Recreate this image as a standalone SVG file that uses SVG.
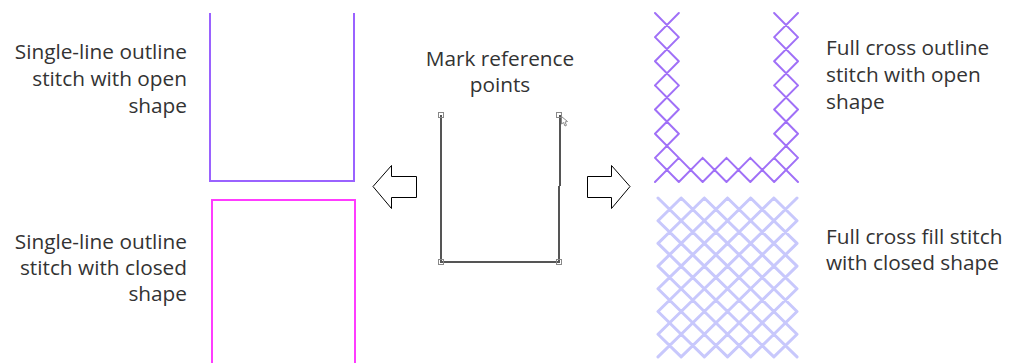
<svg xmlns="http://www.w3.org/2000/svg" width="1010" height="363" viewBox="0 0 1010 363">
<style>
text{font-family:"Open Sans","Noto Sans","Liberation Sans",sans-serif;font-size:20.8px;fill:#333}
.r{text-anchor:end}
.m{text-anchor:middle}
.arrow{fill:#fff;stroke:#000;stroke-width:1}
.xo{fill:none;stroke:#a070f7;stroke-width:2;stroke-linecap:round}
.xf{fill:none;stroke:#c8c8fc;stroke-width:3;stroke-linecap:round}
.mk{fill:none;stroke:#888;stroke-width:1}
</style>
<rect width="1010" height="363" fill="#fff"/>
<g id="label-open-outline">
<text class="r" x="187" y="59">Single-line outline</text>
<text class="r" x="187" y="86">stitch with open</text>
<text class="r" x="187" y="113">shape</text>
</g>
<g id="label-closed-outline">
<text class="r" x="187" y="249">Single-line outline</text>
<text class="r" x="187" y="275">stitch with closed</text>
<text class="r" x="187" y="301">shape</text>
</g>
<g id="label-mark">
<text class="m" x="500" y="66">Mark reference</text>
<text class="m" x="500" y="92">points</text>
</g>
<g id="label-cross-outline">
<text x="826" y="55">Full cross outline</text>
<text x="826" y="82">stitch with open</text>
<text x="826" y="109">shape</text>
</g>
<g id="label-cross-fill">
<text x="826" y="244">Full cross fill stitch</text>
<text x="826" y="270">with closed shape</text>
</g>
<g id="open-outline">
<path d="M210,13 V181 H354 V13" fill="none" stroke="#9a62ff" stroke-width="2"/>
</g>
<g id="closed-outline">
<rect x="212" y="200" width="143" height="180" fill="none" stroke="#ff3cff" stroke-width="2"/>
</g>
<g id="reference-shape">
<path d="M441,115 V262 H559 V186 M560,186 V115" fill="none" stroke="#555" stroke-width="2"/>
<rect class="mk" x="438.5" y="112.5" width="5" height="5"/>
<rect class="mk" x="556.5" y="112.5" width="5" height="5"/>
<rect class="mk" x="438.5" y="259.5" width="5" height="5"/>
<rect class="mk" x="556.5" y="259.5" width="5" height="5"/>
<path d="M561.5,116.5 L561.5,124 L563.5,122.5 L565,126 L566.5,125.3 L565,122 L567.5,121.5 Z" fill="#fff" stroke="#888" stroke-width="1"/>
</g>
<g id="cross-outline">
<path class="xo" d="M655,13 l23.83,24.14 m-23.83,0 l23.83,-24.14 m-23.83,24.14 l23.83,24.14 m-23.83,0 l23.83,-24.14 m-23.83,24.14 l23.83,24.14 m-23.83,0 l23.83,-24.14 m-23.83,24.14 l23.83,24.14 m-23.83,0 l23.83,-24.14 m-23.83,24.14 l23.83,24.14 m-23.83,0 l23.83,-24.14 m-23.83,24.14 l23.83,24.14 m-23.83,0 l23.83,-24.14 m-23.83,24.14 l23.83,24.14 m-23.83,0 l23.83,-24.14 m-23.83,24.14
M774.15,13 l23.83,24.14 m-23.83,0 l23.83,-24.14 m-23.83,24.14 l23.83,24.14 m-23.83,0 l23.83,-24.14 m-23.83,24.14 l23.83,24.14 m-23.83,0 l23.83,-24.14 m-23.83,24.14 l23.83,24.14 m-23.83,0 l23.83,-24.14 m-23.83,24.14 l23.83,24.14 m-23.83,0 l23.83,-24.14 m-23.83,24.14 l23.83,24.14 m-23.83,0 l23.83,-24.14 m-23.83,24.14 l23.83,24.14 m-23.83,0 l23.83,-24.14 m-23.83,24.14
M678.83,157.84 l23.83,24.14 m0,-24.14 l-23.83,24.14 m23.83,-24.14 l23.83,24.14 m0,-24.14 l-23.83,24.14 m23.83,-24.14 l23.83,24.14 m0,-24.14 l-23.83,24.14 m23.83,-24.14 l23.83,24.14 m0,-24.14 l-23.83,24.14"/>
</g>
<g id="cross-fill">
<path class="xf" d="M658,198 l23.17,22.7 m0,-22.7 l-23.17,22.7 m23.17,-22.7 l23.17,22.7 m0,-22.7 l-23.17,22.7 m23.17,-22.7 l23.17,22.7 m0,-22.7 l-23.17,22.7 m23.17,-22.7 l23.17,22.7 m0,-22.7 l-23.17,22.7 m23.17,-22.7 l23.17,22.7 m0,-22.7 l-23.17,22.7 m23.17,-22.7 l23.17,22.7 m0,-22.7 l-23.17,22.7
M658,220.7 l23.17,22.7 m0,-22.7 l-23.17,22.7 m23.17,-22.7 l23.17,22.7 m0,-22.7 l-23.17,22.7 m23.17,-22.7 l23.17,22.7 m0,-22.7 l-23.17,22.7 m23.17,-22.7 l23.17,22.7 m0,-22.7 l-23.17,22.7 m23.17,-22.7 l23.17,22.7 m0,-22.7 l-23.17,22.7 m23.17,-22.7 l23.17,22.7 m0,-22.7 l-23.17,22.7
M658,243.4 l23.17,22.7 m0,-22.7 l-23.17,22.7 m23.17,-22.7 l23.17,22.7 m0,-22.7 l-23.17,22.7 m23.17,-22.7 l23.17,22.7 m0,-22.7 l-23.17,22.7 m23.17,-22.7 l23.17,22.7 m0,-22.7 l-23.17,22.7 m23.17,-22.7 l23.17,22.7 m0,-22.7 l-23.17,22.7 m23.17,-22.7 l23.17,22.7 m0,-22.7 l-23.17,22.7
M658,266.1 l23.17,22.7 m0,-22.7 l-23.17,22.7 m23.17,-22.7 l23.17,22.7 m0,-22.7 l-23.17,22.7 m23.17,-22.7 l23.17,22.7 m0,-22.7 l-23.17,22.7 m23.17,-22.7 l23.17,22.7 m0,-22.7 l-23.17,22.7 m23.17,-22.7 l23.17,22.7 m0,-22.7 l-23.17,22.7 m23.17,-22.7 l23.17,22.7 m0,-22.7 l-23.17,22.7
M658,288.8 l23.17,22.7 m0,-22.7 l-23.17,22.7 m23.17,-22.7 l23.17,22.7 m0,-22.7 l-23.17,22.7 m23.17,-22.7 l23.17,22.7 m0,-22.7 l-23.17,22.7 m23.17,-22.7 l23.17,22.7 m0,-22.7 l-23.17,22.7 m23.17,-22.7 l23.17,22.7 m0,-22.7 l-23.17,22.7 m23.17,-22.7 l23.17,22.7 m0,-22.7 l-23.17,22.7
M658,311.5 l23.17,22.7 m0,-22.7 l-23.17,22.7 m23.17,-22.7 l23.17,22.7 m0,-22.7 l-23.17,22.7 m23.17,-22.7 l23.17,22.7 m0,-22.7 l-23.17,22.7 m23.17,-22.7 l23.17,22.7 m0,-22.7 l-23.17,22.7 m23.17,-22.7 l23.17,22.7 m0,-22.7 l-23.17,22.7 m23.17,-22.7 l23.17,22.7 m0,-22.7 l-23.17,22.7
M658,334.2 l23.17,22.7 m0,-22.7 l-23.17,22.7 m23.17,-22.7 l23.17,22.7 m0,-22.7 l-23.17,22.7 m23.17,-22.7 l23.17,22.7 m0,-22.7 l-23.17,22.7 m23.17,-22.7 l23.17,22.7 m0,-22.7 l-23.17,22.7 m23.17,-22.7 l23.17,22.7 m0,-22.7 l-23.17,22.7 m23.17,-22.7 l23.17,22.7 m0,-22.7 l-23.17,22.7"/>
</g>
<g id="connectors">
<polygon class="arrow" points="373,186.5 391.5,165.5 391.5,176.5 416.5,176.5 416.5,197.5 391.5,197.5 391.5,208.5"/>
<polygon class="arrow" points="630,186.5 611.5,165.5 611.5,176.5 587.5,176.5 587.5,197.5 611.5,197.5 611.5,208.5"/>
</g>
</svg>
